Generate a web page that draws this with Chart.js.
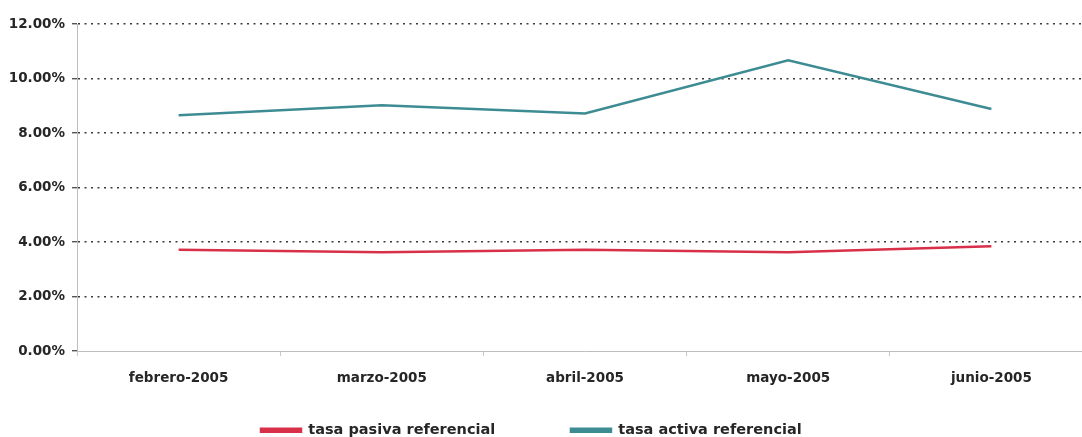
<!DOCTYPE html>
<html>
<head>
<meta charset="utf-8">
<script src="https://cdn.jsdelivr.net/npm/chart.js@4/dist/chart.umd.min.js"></script>
<style>
  html, body { margin: 0; padding: 0; background: #fff; overflow: hidden; }
  #wrap { width: 1100px; height: 437px; }
</style>
</head>
<body>
<div id="wrap"><canvas id="tasas" width="1100" height="437"></canvas></div>
<script>
const months = ["febrero-2005", "marzo-2005", "abril-2005", "mayo-2005", "junio-2005"];
const tasaPasiva = [3.72, 3.62, 3.72, 3.62, 3.84];
const tasaActiva = [8.65, 9.02, 8.72, 10.67, 8.88];
const yTicks = [0, 2, 4, 6, 8, 10, 12];

const RED = "#d9304a";
const TEAL = "#3e8c93";
const TEXT = "#262626";

// legend row sits low under the axis labels; keep its box short so the plot keeps its height
const compactLegend = {
  id: "compactLegend",
  beforeLayout(chart) {
    const lg = chart.legend;
    if (lg && !lg._compact) {
      const fit = lg.fit.bind(lg);
      lg.fit = function () {
        fit();
        this.height = 14;
      };
      lg._compact = true;
    }
  },
};

// trailing blanks widen the gap between the two legend entries
const legendGap = ["               ", "      "];

new Chart(document.getElementById("tasas"), {
  type: "line",
  data: {
    labels: months,
    datasets: [
      {
        label: "tasa pasiva referencial",
        data: tasaPasiva,
        borderColor: RED,
        backgroundColor: RED,
        borderWidth: 2.5,
        pointRadius: 0,
        tension: 0,
      },
      {
        label: "tasa activa referencial",
        data: tasaActiva,
        borderColor: TEAL,
        backgroundColor: TEAL,
        borderWidth: 2.5,
        pointRadius: 0,
        tension: 0,
      },
    ],
  },
  plugins: [compactLegend],
  options: {
    responsive: false,
    animation: false,
    layout: { padding: { top: 24, right: 7, left: 0, bottom: 0 } },
    scales: {
      x: {
        offset: true,
        grid: { drawOnChartArea: false, offset: true, tickLength: 5, color: "#c8c8c8" },
        border: { color: "#bdbdbd", width: 1 },
        ticks: {
          padding: 14,
          color: TEXT,
          font: { family: "DejaVu Sans", weight: "bold", size: 13.5 },
        },
        afterFit: (scale) => { scale.height = 72; },
      },
      y: {
        min: 0,
        max: 12,
        afterBuildTicks: (scale) => { scale.ticks = yTicks.map((v) => ({ value: v })); },
        afterFit: (scale) => { scale.width = 77; },
        grid: {
          color: (ctx) => (ctx.tick && ctx.tick.value === 0 ? "rgba(0,0,0,0)" : "#3a3a3a"),
          lineWidth: 1.4,
          tickLength: 5,
          tickColor: "#555",
        },
        border: { color: "#bdbdbd", width: 1, dash: [2, 4.5], dashOffset: 0 },
        ticks: {
          padding: 7,
          color: TEXT,
          font: { family: "DejaVu Sans", weight: "bold", size: 13.5 },
          callback: (v) => v.toFixed(2) + "%",
        },
      },
    },
    plugins: {
      legend: {
        position: "bottom",
        labels: {
          boxWidth: 40,
          boxHeight: 3,
          padding: 0,
          color: TEXT,
          font: { family: "DejaVu Sans", weight: "bold", size: 14.5 },
          generateLabels: (chart) =>
            Chart.defaults.plugins.legend.labels.generateLabels(chart).map((item, i) => ({
              ...item,
              text: item.text + (legendGap[i] || ""),
            })),
        },
      },
      tooltip: { enabled: false },
    },
  },
});
</script>
</body>
</html>
